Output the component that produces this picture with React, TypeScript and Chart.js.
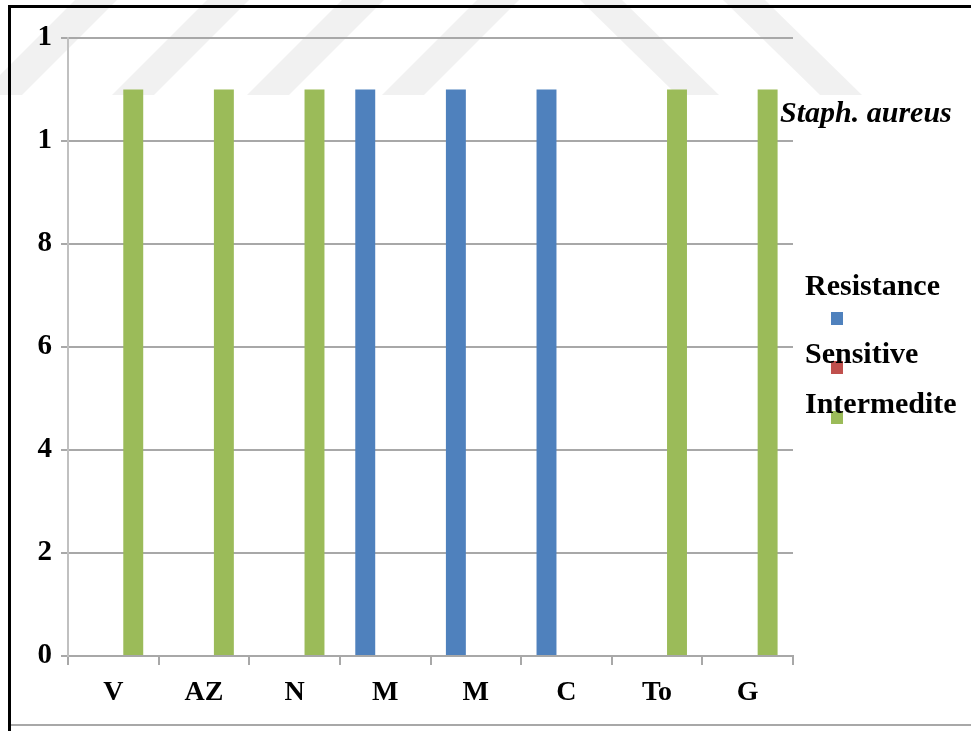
import React, { useEffect, useRef } from "react";
import { Chart, registerables } from "chart.js";

Chart.register(...registerables);

// ---- data ----
const categories = ["V", "AZ", "N", "M", "M", "C", "To", "G"];
const seriesNames = ["Resistance", "Sensitive", "Intermedite"];
const resistance = [0, 0, 0, 11, 11, 11, 0, 0];
const sensitive = [0, 0, 0, 0, 0, 0, 0, 0];
const intermediate = [11, 11, 11, 0, 0, 0, 11, 11];
const yTickValues = [0, 2, 4, 6, 8, 10, 12];
const yTickLabels = ["0", "2", "4", "6", "8", "1", "1"];
const titleText = "Staph. aureus";

const seriesColors = ["#4F81BD", "#C0504D", "#9BBB59"];
const FONT = "'Liberation Serif', 'Times New Roman', serif";

const decorPlugin = {
  id: "decor",
  beforeDraw(chart: any) {
    const ctx = chart.ctx;
    const W = chart.width;
    const H = chart.height;
    ctx.save();
    ctx.fillStyle = "#ffffff";
    ctx.fillRect(0, 0, W, H);
    // faint watermark stripes
    ctx.fillStyle = "rgba(0,0,0,0.055)";
    const sw = 42;
    const sh = 95;
    [-20, 112, 247, 382].forEach((bx) => {
      ctx.beginPath();
      ctx.moveTo(bx, sh);
      ctx.lineTo(bx + sw, sh);
      ctx.lineTo(bx + sw + 95, 0);
      ctx.lineTo(bx + 95, 0);
      ctx.closePath();
      ctx.fill();
    });
    [580, 723].forEach((tx) => {
      ctx.beginPath();
      ctx.moveTo(tx, 0);
      ctx.lineTo(tx + sw, 0);
      ctx.lineTo(tx + sw + 97, sh);
      ctx.lineTo(tx + 97, sh);
      ctx.closePath();
      ctx.fill();
    });
    // frame
    ctx.strokeStyle = "#000000";
    ctx.lineWidth = 3;
    ctx.beginPath();
    ctx.moveTo(9.5, H);
    ctx.lineTo(9.5, 6.5);
    ctx.lineTo(W, 6.5);
    ctx.stroke();
    ctx.strokeStyle = "#a8a8a8";
    ctx.lineWidth = 2;
    ctx.beginPath();
    ctx.moveTo(11, 725);
    ctx.lineTo(W, 725);
    ctx.stroke();
    ctx.restore();
  },
  afterDraw(chart: any) {
    const ctx = chart.ctx;
    ctx.save();
    // title
    ctx.fillStyle = "#000000";
    ctx.textAlign = "left";
    ctx.textBaseline = "alphabetic";
    ctx.font = `italic 700 30px ${FONT}`;
    ctx.fillText(titleText, 780, 122);
    // legend: text with small square under it
    const textBase = [295, 363, 413];
    const boxTop = [312, 361, 411];
    ctx.font = `700 30px ${FONT}`;
    chart.data.datasets.forEach((ds: any, i: number) => {
      ctx.fillStyle = ds.backgroundColor;
      ctx.fillRect(831, boxTop[i], 12, 13);
      ctx.fillStyle = "#000000";
      ctx.fillText(ds.label, 805, textBase[i]);
    });
    ctx.restore();
  },
};

export default function App() {
  const ref = useRef<HTMLCanvasElement | null>(null);

  useEffect(() => {
    if (!ref.current) return;
    const chart = new Chart(ref.current, {
      type: "bar",
      data: {
        labels: categories,
        datasets: [
          { label: seriesNames[0], data: resistance, backgroundColor: seriesColors[0] },
          { label: seriesNames[1], data: sensitive, backgroundColor: seriesColors[1] },
          { label: seriesNames[2], data: intermediate, backgroundColor: seriesColors[2] },
        ],
      },
      options: {
        animation: false,
        responsive: false,
        layout: { padding: { left: 0, right: 178, top: 38, bottom: 0 } },
        datasets: {
          bar: { categoryPercentage: 0.66, barPercentage: 1.0 },
        },
        plugins: {
          legend: { display: false },
          tooltip: { enabled: false },
          title: { display: false },
        },
        scales: {
          x: {
            type: "category",
            grid: {
              display: true,
              drawOnChartArea: false,
              drawTicks: true,
              tickLength: 9,
              offset: true,
              color: "#a8a8a8",
              lineWidth: 2,
            },
            border: { display: true, color: "#a8a8a8", width: 2 },
            ticks: {
              color: "#000000",
              padding: 11,
              maxRotation: 0,
              autoSkip: false,
              font: { family: FONT, size: 28, weight: "bold" },
            },
            afterFit: (scale: any) => {
              scale.height = 75;
            },
          },
          y: {
            min: 0,
            max: 12,
            ticks: {
              stepSize: 2,
              color: "#000000",
              padding: 9,
              font: { family: FONT, size: 29, weight: "bold" },
              callback: (v: any) => {
                const i = yTickValues.indexOf(Number(v));
                return i >= 0 ? yTickLabels[i] : "";
              },
            },
            grid: {
              color: "#a8a8a8",
              lineWidth: 2,
              tickLength: 7,
            },
            border: { display: true, color: "#c0c0c0", width: 2 },
            afterFit: (scale: any) => {
              scale.width = 68;
            },
          },
        },
      },
      plugins: [decorPlugin],
    });
    return () => chart.destroy();
  }, []);

  return (
    <div style={{ position: "absolute", left: 0, top: 0, width: 971, height: 731 }}>
      <canvas ref={ref} width={971} height={731} />
    </div>
  );
}
